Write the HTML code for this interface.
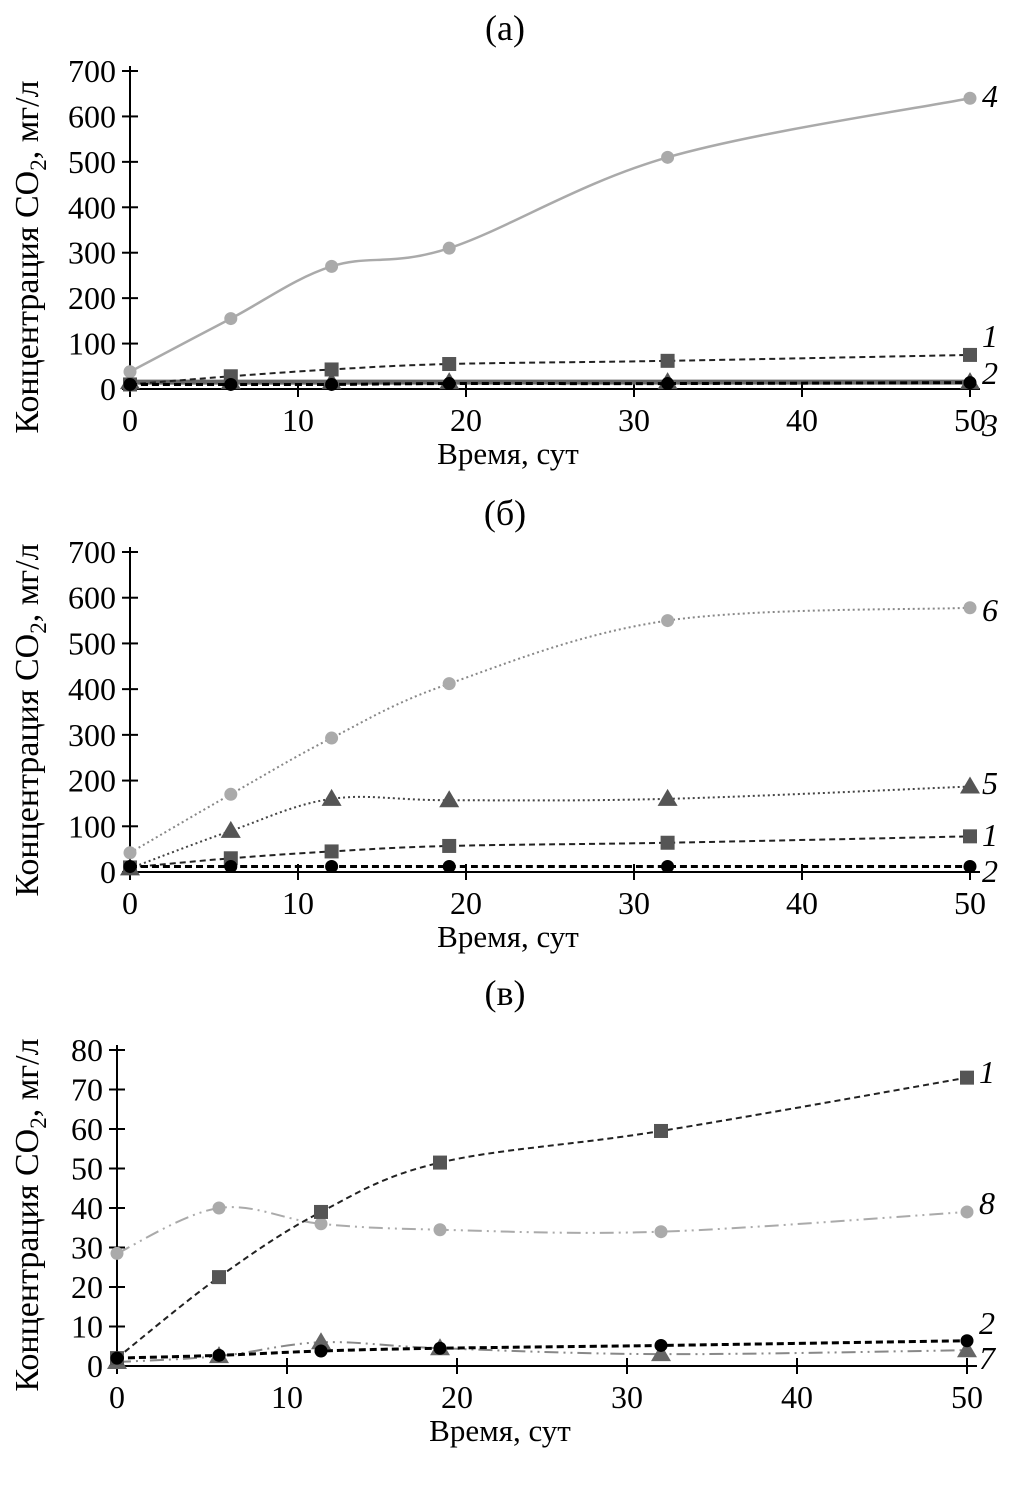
<!DOCTYPE html>
<html><head><meta charset="utf-8"><style>
body{margin:0;background:#fff}
svg{display:block;font-family:"Liberation Serif",serif}
</style></head><body>
<svg id="chart" width="1009" height="1485" viewBox="0 0 1009 1485"></svg>
<script>
const days=[0,6,12,19,32,50];
const a4=[38,155,270,310,510,640];
const a1=[10,28,43,55,62,75];
const a2=[10,10,10,12,12,14];
const a3=[15,15,15,15,15,15];
const b6=[42,170,293,412,550,578];
const b5=[8,90,160,157,160,187];
const b1=[10,30,45,57,64,78];
const b2=[12,12,12,12,12,12];
const c1=[2,22.5,39,51.5,59.5,73];
const c8=[28.5,40,36,34.5,34,39];
const c2=[2,2.7,3.8,4.5,5.2,6.4];
const c7=[1,2.5,6,4.5,3,4];
const xTicks=[0,10,20,30,40,50];
const yTicksAB=[0,100,200,300,400,500,600,700];
const yTicksC=[0,10,20,30,40,50,60,70,80];
const titles=["(а)","(б)","(в)"];

const NS="http://www.w3.org/2000/svg";
const svg=document.getElementById('chart');
function el(t,at,p){const e=document.createElementNS(NS,t);for(const k in at)e.setAttribute(k,at[k]);(p||svg).appendChild(e);return e;}

const panels=[
 {x0:130,x1:970,y0:389,y1:71,ymax:700,yt:yTicksAB,title:titles[0],ty:28,ycy:257,
  series:[
   {d:a3,name:'3',col:'#666',w:5,dash:'',mk:'tri',mc:'#555',lab:'3',ly:425},
   {d:a4,name:'4',col:'#aaa',w:2.5,dash:'',mk:'circ',mc:'#aaa',lab:'4',ly:96},
   {d:a1,name:'1',col:'#222',w:2,dash:'6,4',mk:'sq',mc:'#555',lab:'1',ly:336},
   {d:a2,name:'2',col:'#000',w:3,dash:'7,4',mk:'circ',mc:'#000',lab:'2',ly:373}]},
 {x0:130,x1:970,y0:872,y1:552,ymax:700,yt:yTicksAB,title:titles[1],ty:513,ycy:720,
  series:[
   {d:b6,name:'6',col:'#888',w:2,dash:'2,3',mk:'circ',mc:'#aaa',lab:'6',ly:610},
   {d:b5,name:'5',col:'#444',w:2,dash:'2,3',mk:'tri',mc:'#555',lab:'5',ly:783},
   {d:b1,name:'1',col:'#222',w:2,dash:'6,4',mk:'sq',mc:'#555',lab:'1',ly:835},
   {d:b2,name:'2',col:'#000',w:3,dash:'7,4',mk:'circ',mc:'#000',lab:'2',ly:871}]},
 {x0:117,x1:967,y0:1366,y1:1050,ymax:80,yt:yTicksC,title:titles[2],ty:993,ycy:1215,
  series:[
   {d:c8,name:'8',col:'#aaa',w:2,dash:'14,5,2,5,2,5',mk:'circ',mc:'#aaa',lab:'8',ly:1203},
   {d:c7,name:'7',col:'#888',w:2,dash:'14,5,2,5,2,5',mk:'tri',mc:'#666',lab:'7',ly:1358},
   {d:c1,name:'1',col:'#222',w:2,dash:'6,4',mk:'sq',mc:'#555',lab:'1',ly:1072},
   {d:c2,name:'2',col:'#000',w:3,dash:'7,4',mk:'circ',mc:'#000',lab:'2',ly:1323}]}
];

function smooth(pts){
 let d=`M${pts[0][0]},${pts[0][1]}`;
 for(let i=0;i<pts.length-1;i++){
  const p0=pts[Math.max(0,i-1)],p1=pts[i],p2=pts[i+1],p3=pts[Math.min(pts.length-1,i+2)];
  const t=0.17;
  d+=` C${p1[0]+(p2[0]-p0[0])*t},${p1[1]+(p2[1]-p0[1])*t} ${p2[0]-(p3[0]-p1[0])*t},${p2[1]-(p3[1]-p1[1])*t} ${p2[0]},${p2[1]}`;
 }
 return d;
}

panels.forEach((P,pi)=>{
 const g=el('g',{});
 
 
 const X=v=>P.x0+(P.x1-P.x0)*v/50;
 const Y=v=>P.y0-(P.y0-P.y1)*v/P.ymax;
 const t=el('text',{x:505,y:P.ty+12,'font-size':36,'text-anchor':'middle'},g);t.textContent=P.title;
 
 const ax=el('path',{d:`M${P.x0},${P.y1-5}V${P.y0}H${P.x1+10}`,stroke:'#000','stroke-width':2,fill:'none'},g);
 
 P.yt.forEach(v=>{
  el('line',{x1:P.x0-8,x2:P.x0+8,y1:Y(v),y2:Y(v),stroke:'#000','stroke-width':2},g);
  const tl=el('text',{x:P.x0-14,y:Y(v)+11,'font-size':32,'text-anchor':'end'},g);tl.textContent=v;
  
 });
 xTicks.forEach(v=>{
  el('line',{x1:X(v),x2:X(v),y1:P.y0-8,y2:P.y0+8,stroke:'#000','stroke-width':2},g);
  const tl=el('text',{x:X(v),y:P.y0+42,'font-size':32,'text-anchor':'middle'},g);tl.textContent=v;
  
 });
 const xt=el('text',{x:(P.x0+P.x1)/2-42,y:P.y0+75,'font-size':31,'text-anchor':'middle'},g);xt.textContent='Время, сут';
 
 const yt=el('text',{transform:`translate(38,${P.ycy}) rotate(-90)`,'font-size':34,'text-anchor':'middle'},g);
 yt.innerHTML='Концентрация CO<tspan font-size="23" dy="8">2</tspan><tspan dy="-8">, мг/л</tspan>';
 
 P.series.forEach(s=>{
  const pts=days.map((d,i)=>[X(d),Y(s.d[i])]);
  const ln=el('path',{d:smooth(pts),stroke:s.col,'stroke-width':s.w,fill:'none','stroke-dasharray':s.dash},g);
  
  pts.forEach(p=>{
   let m;
   if(s.mk==='circ') m=el('circle',{cx:p[0],cy:p[1],r:6.5,fill:s.mc},g);
   else if(s.mk==='sq') m=el('rect',{x:p[0]-7,y:p[1]-7,width:14,height:14,fill:s.mc},g);
   else m=el('polygon',{points:`${p[0]},${p[1]-10} ${p[0]-10},${p[1]+7} ${p[0]+10},${p[1]+7}`,fill:s.mc},g);
   
  });
  const lb=el('text',{x:P.x1+20,y:s.ly+11,'font-size':32,'font-style':'italic','text-anchor':'middle'},g);lb.textContent=s.lab;
  
 });
});
</script>
</body></html>
